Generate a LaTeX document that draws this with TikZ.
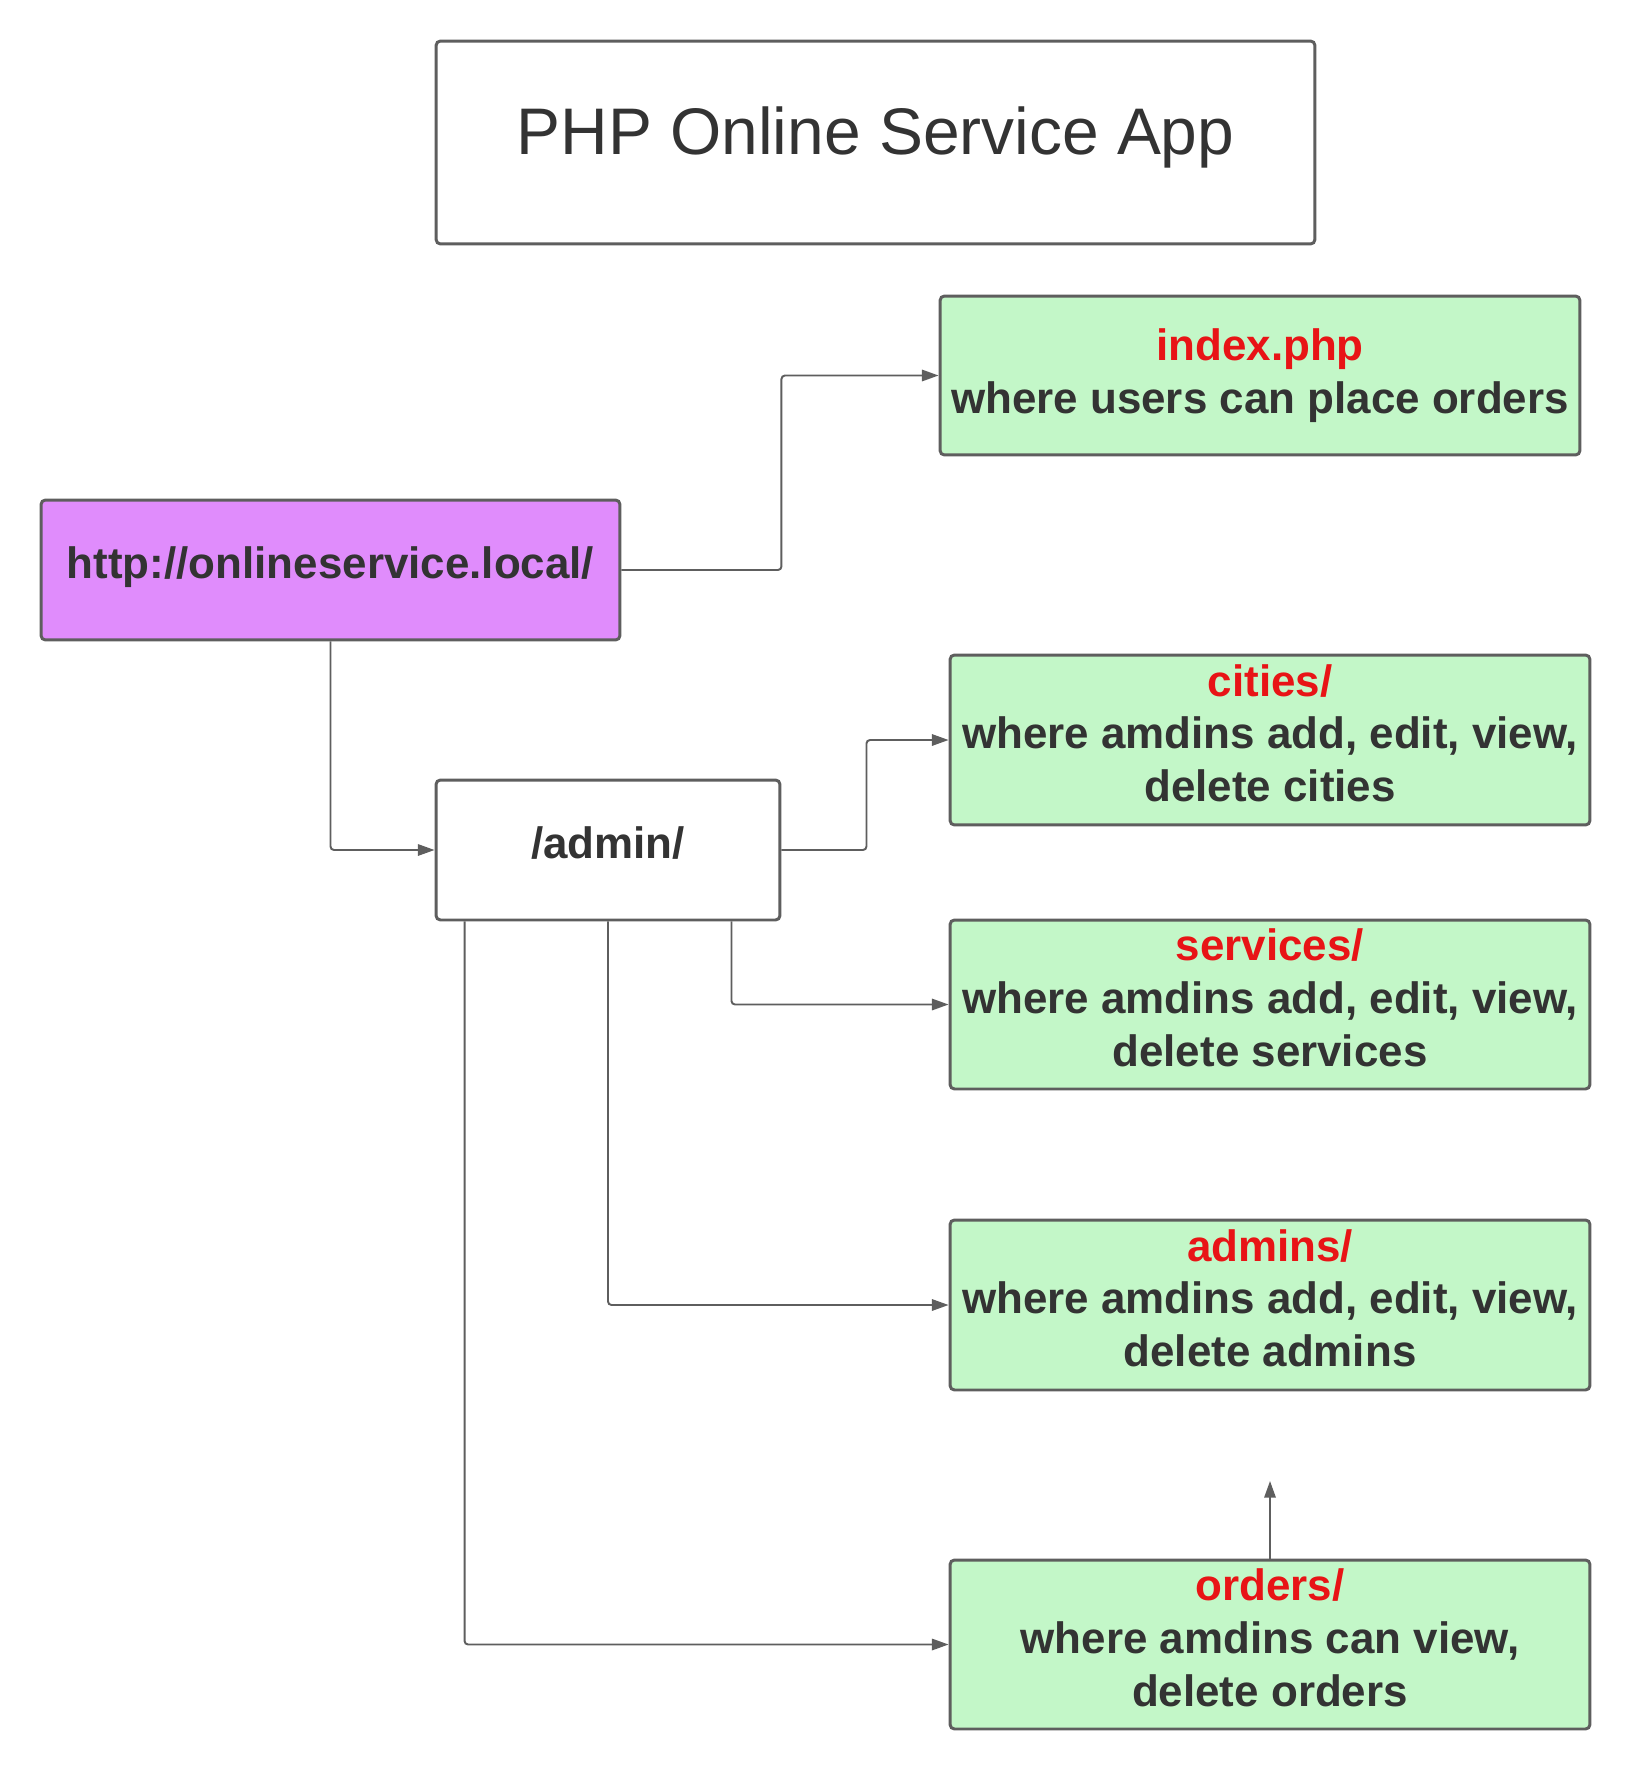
\documentclass[tikz,border=0pt]{standalone}
\usepackage{fontspec}
\setmainfont{Liberation Sans}
\usetikzlibrary{arrows.meta}
\definecolor{textgray}{HTML}{333333}
\definecolor{linegray}{HTML}{5E5E5E}
\definecolor{pagegreen}{HTML}{C3F7C8}
\definecolor{urlpurple}{HTML}{E08CFC}
\definecolor{pathred}{HTML}{E81416}
\newcommand{\pathname}[1]{\textcolor{pathred}{#1}}
\newcommand{\lowpad}[1]{\rule[-#1]{0pt}{0pt}}
\begin{document}
\begin{tikzpicture}
  [
  x=0.02cm,y=-0.02cm,
  box/.style={rectangle,draw=linegray,line width=1.7pt,rounded corners=2.5pt,inner sep=0pt,text=textgray,align=center,font=\bfseries\fontsize{25}{30}\selectfont},
  page/.style={box,fill=pagegreen,minimum width=12.8cm,minimum height=3.4cm},
  link/.style={draw=linegray,line width=1.1pt,rounded corners=2pt,-{Triangle[length=9.5pt,width=6.5pt]}}
  ]
  \useasboundingbox (0,0) rectangle (1630,1770);

  \node (title) at (875.5,142.5) [box,minimum width=17.58cm,minimum height=4.06cm,font=\fontsize{37.5}{45}\selectfont] {PHP Online Service App\lowpad{13pt}};

  \node (url) at (330.5,570) [box,fill=urlpurple,minimum width=11.58cm,minimum height=2.8cm] {http://onlineservice.local/\lowpad{9pt}};
  \node (admin) at (608,850) [box,minimum width=6.88cm,minimum height=2.8cm] {/admin/\lowpad{8pt}};

  \node (index) at (1260,375.5) [page,minimum height=3.18cm] {\pathname{index.php}\\where users can place orders};
  \node (cities) at (1270,740) [page] {\pathname{cities/}\\where amdins add, edit, view,\\delete cities\lowpad{8pt}};
  \node (services) at (1270,1004.5) [page,minimum height=3.38cm] {\pathname{services/}\\where amdins add, edit, view,\\delete services\lowpad{8pt}};
  \node (admins) at (1270,1305) [page] {\pathname{admins/}\\where amdins add, edit, view,\\delete admins\lowpad{8pt}};
  \node (orders) at (1270,1644.5) [page,minimum height=3.38cm] {\pathname{orders/}\\where amdins can view,\\delete orders\lowpad{8pt}};
  \coordinate (ordersup) at (1270,1481);

  \draw [link] (url.east) -- ++(160,0) |- (index.west);
  \draw [link] (url.south) |- (admin.west);
  \draw [link] (admin.east) -- ++(85,0) |- (cities.west);
  \draw [link] ([xshift=-1cm]admin.south east) |- (services.west);
  \draw [link] (admin.south) |- (admins.west);
  \draw [link] ([xshift=0.6cm]admin.south west) |- (orders.west);
  \draw [link] (orders.north) -- (ordersup);
\end{tikzpicture}
\end{document}
